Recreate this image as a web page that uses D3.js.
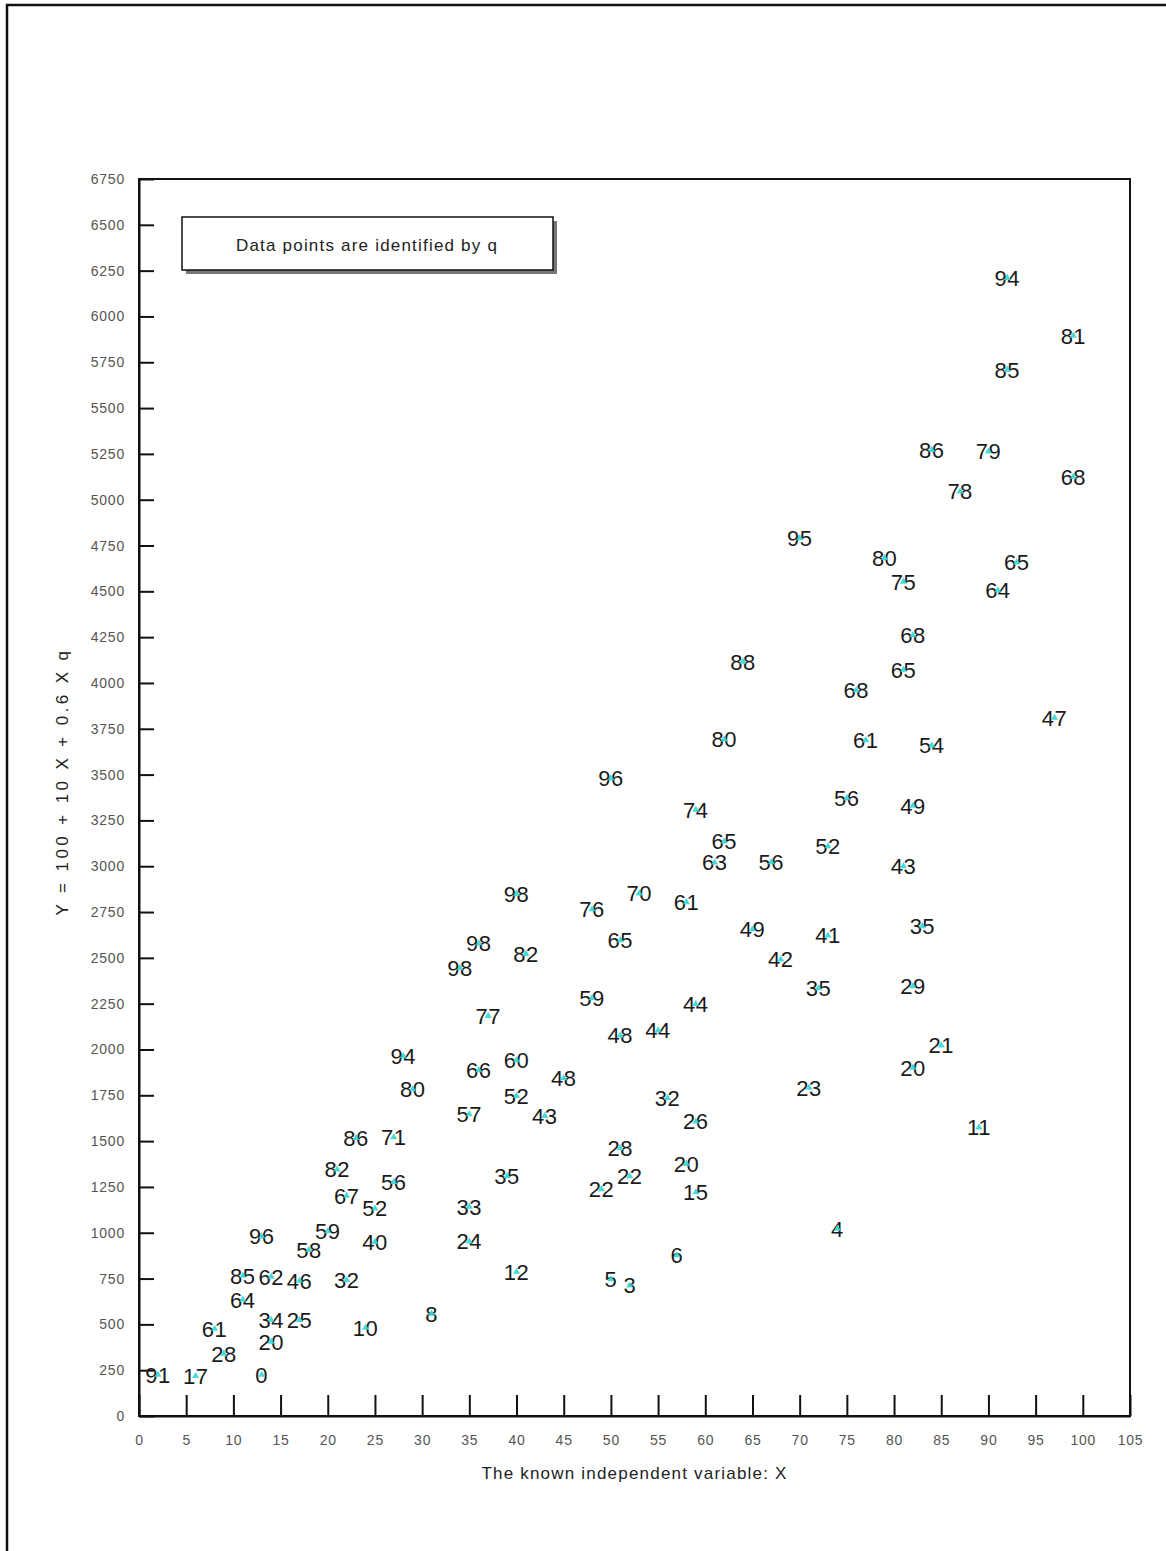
<!DOCTYPE html>
<html>
<head>
<meta charset="utf-8">
<script src="https://cdn.jsdelivr.net/npm/d3@7"></script>
<style>
    body { margin: 0; background: #fff; }
    .tick text { font-family: "Liberation Sans", Arial, sans-serif; font-size: 14px; fill: #555; letter-spacing: 0.8px; }
    .point-label { font-family: "Liberation Sans", Arial, sans-serif; font-size: 22px; fill: #1a1a1a; letter-spacing: 0.5px; }
    .axis-title { font-family: "Liberation Sans", Arial, sans-serif; font-size: 17px; fill: #222; letter-spacing: 1.2px; }
</style>
</head>
<body>
<div id="chart"></div>
<script>
const qValues = [91, 17, 0, 28, 61, 20, 34, 25, 64, 85, 62, 46, 32, 10, 8, 96, 58, 59, 40, 67,
    52, 82, 56, 86, 71, 94, 80, 57, 33, 24, 35, 12, 66, 60, 52, 43, 48, 77, 98, 98,
    82, 98, 76, 70, 65, 61, 59, 48, 44, 44, 32, 26, 28, 22, 22, 20, 15, 5, 3, 6,
    96, 74, 65, 63, 80, 88, 56, 49, 42, 41, 35, 52, 56, 49, 43, 35, 29, 23, 21, 20,
    11, 4, 61, 54, 68, 65, 68, 47, 80, 75, 95, 65, 64, 86, 79, 78, 68, 94, 85, 81];
const xValues = [2, 6, 13, 9, 8, 14, 14, 17, 11, 11, 14, 17, 22, 24, 31, 13, 18, 20, 25, 22,
    25, 21, 27, 23, 27, 28, 29, 35, 35, 35, 39, 40, 36, 40, 40, 43, 45, 37, 34, 36,
    41, 40, 48, 53, 51, 58, 48, 51, 55, 59, 56, 59, 51, 52, 49, 58, 59, 50, 52, 57,
    50, 59, 62, 61, 62, 64, 67, 65, 68, 73, 72, 73, 75, 82, 81, 83, 82, 71, 85, 82,
    89, 74, 77, 84, 76, 81, 82, 97, 79, 81, 70, 93, 91, 84, 90, 87, 99, 92, 92, 99];
const yValues = [226, 218, 225, 340, 476, 406, 525, 524, 635, 765, 760, 738, 742, 482, 558, 980, 906, 1008, 950, 1202,
    1132, 1345, 1277, 1517, 1521, 1964, 1783, 1647, 1142, 952, 1309, 787, 1887, 1941, 1747, 1638, 1843, 2183, 2444, 2579,
    2522, 2850, 2765, 2852, 2596, 2804, 2280, 2077, 2104, 2248, 1735, 1607, 1462, 1308, 1238, 1376, 1221, 746, 712, 877,
    3480, 3308, 3135, 3020, 3692, 4116, 3022, 2656, 2491, 2622, 2334, 3109, 3371, 3330, 3000, 2673, 2346, 1792, 2022, 1901,
    1575, 1022, 3688, 3659, 3961, 4072, 4261, 3810, 4682, 4553, 4790, 4658, 4505, 5272, 5263, 5045, 5126, 6210, 5710, 5895];

const xTicks = d3.range(0, 106, 5);
const yTicks = d3.range(0, 6751, 250);

const xTitle = "The known independent variable: X";
const yTitle = "Y = 100 + 10 X + 0.6 X q";
const legendText = "Data points are identified by q";

class LabelScatter {
    constructor(_parentElement) {
        this.parentElement = _parentElement;
        this.data = qValues.map((q, i) => ({ q: q, x: xValues[i], y: yValues[i] }));
        this.initVis();
    }

    initVis() {
        const vis = this;

        vis.MARGIN = { LEFT: 139, TOP: 179 };
        vis.WIDTH = 991;
        vis.HEIGHT = 1237;

        vis.svg = d3.select(vis.parentElement).append("svg")
            .attr("width", 1166)
            .attr("height", 1551);

        vis.svg.append("rect")
            .attr("width", 1166)
            .attr("height", 1551)
            .attr("fill", "#fff");

        // outer frame (only left and top show in the picture)
        vis.svg.append("rect")
            .attr("x", 7)
            .attr("y", 5)
            .attr("width", 1170)
            .attr("height", 1560)
            .attr("fill", "none")
            .attr("stroke", "#111")
            .attr("stroke-width", 2.5);

        vis.g = vis.svg.append("g")
            .attr("transform", `translate(${vis.MARGIN.LEFT}, ${vis.MARGIN.TOP})`);

        vis.x = d3.scaleLinear().domain([0, 105]).range([0, vis.WIDTH]);
        vis.y = d3.scaleLinear().domain([0, 6750]).range([vis.HEIGHT, 0]);

        // plot frame
        vis.g.append("rect")
            .attr("width", vis.WIDTH)
            .attr("height", vis.HEIGHT)
            .attr("fill", "none")
            .attr("stroke", "#111")
            .attr("stroke-width", 2);

        // X Axis
        vis.xAxisCall = d3.axisBottom(vis.x)
            .tickValues(xTicks)
            .tickFormat(d3.format("d"))
            .tickSizeInner(-21)
            .tickSizeOuter(0)
            .tickPadding(19);
        vis.xAxis = vis.g.append("g")
            .attr("class", "x axis")
            .attr("transform", `translate(0, ${vis.HEIGHT})`)
            .call(vis.xAxisCall);

        // Y Axis
        vis.yAxisCall = d3.axisLeft(vis.y)
            .tickValues(yTicks)
            .tickFormat(d3.format("d"))
            .tickSizeInner(-15)
            .tickSizeOuter(0)
            .tickPadding(14);
        vis.yAxis = vis.g.append("g")
            .attr("class", "y axis")
            .call(vis.yAxisCall);

        vis.g.selectAll(".axis path, .axis line")
            .attr("stroke", "#111")
            .attr("stroke-width", 2);

        // Axis titles
        vis.g.append("text")
            .attr("class", "axis-title")
            .attr("text-anchor", "middle")
            .attr("x", vis.WIDTH / 2)
            .attr("y", vis.HEIGHT + 63)
            .text(xTitle);

        vis.g.append("text")
            .attr("class", "axis-title")
            .attr("text-anchor", "middle")
            .attr("transform", "rotate(-90)")
            .attr("x", -(vis.HEIGHT / 2) + 16)
            .attr("y", -71)
            .style("letter-spacing", "3.4px")
            .text(yTitle);

        // Legend box with drop shadow
        const legend = vis.svg.append("g")
            .attr("transform", "translate(182, 217)");
        legend.append("rect")
            .attr("x", 4)
            .attr("y", 4)
            .attr("width", 371)
            .attr("height", 53)
            .attr("fill", "#777");
        legend.append("rect")
            .attr("width", 371)
            .attr("height", 53)
            .attr("fill", "#fff")
            .attr("stroke", "#111")
            .attr("stroke-width", 1.5);
        legend.append("text")
            .attr("class", "axis-title")
            .attr("text-anchor", "middle")
            .attr("x", 185)
            .attr("y", 34)
            .text(legendText);

        vis.updateVis();
    }

    updateVis() {
        const vis = this;

        const pts = vis.g.selectAll(".pt")
            .data(vis.data)
            .enter().append("g")
            .attr("class", "pt")
            .attr("transform", d => `translate(${vis.x(d.x)}, ${vis.y(d.y)})`);

        pts.append("text")
            .attr("class", "point-label")
            .attr("text-anchor", "middle")
            .attr("dy", "0.36em")
            .text(d => d.q);

        pts.append("path")
            .attr("d", d3.symbol(d3.symbolTriangle, 22))
            .attr("fill", "#33d6d4")
            .attr("opacity", 0.9);
    }
}

new LabelScatter("#chart");
</script>
</body>
</html>
